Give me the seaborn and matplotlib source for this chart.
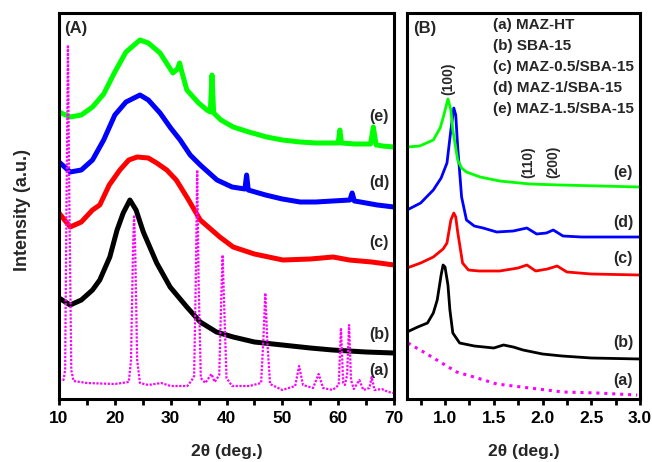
import numpy as np
import pandas as pd
import matplotlib
matplotlib.use("Agg")
import matplotlib.pyplot as plt
from matplotlib.ticker import MultipleLocator
import seaborn as sns

# ---------------- Panel A data (wide angle XRD) ----------------
a_e_x = [10.0, 12.0, 14.0, 16.0, 18.0, 20.0, 22.0, 24.5, 26.0, 28.1, 30.4, 31.2, 31.6, 32.0,
         32.9, 35.0, 36.5, 37.1, 37.4, 37.7, 39.0, 41.2, 44.0, 47.2, 50.0, 53.2, 56.0, 59.1,
         60.0, 60.3, 60.6, 63.0, 65.8, 66.3, 66.8, 68.0, 70.0]
a_e_y = [287, 282, 284, 292, 305, 327, 347, 359, 356, 346, 326, 330, 336, 327,
         309, 296, 289, 287, 324, 286, 279, 272, 267, 262, 259, 257, 256, 256,
         256, 269, 256, 255, 255, 272, 254, 253, 252]

a_d_x = [10.0, 12.0, 14.0, 16.0, 18.0, 20.0, 22.0, 24.5, 26.0, 28.1, 30.0, 31.7, 33.5, 35.3,
         38.3, 41.0, 43.3, 43.6, 43.9, 47.0, 50.0, 53.2, 56.0, 59.0, 62.1, 62.5, 62.9, 64.0,
         67.0, 70.0]
a_d_y = [237, 227, 229, 239, 259, 284, 297, 304, 299, 286, 271, 259, 244, 234,
         219, 212, 210, 224, 209, 204, 200, 197, 197, 198, 199, 206, 198, 197,
         194, 192]

a_c_x = [10.0, 12.0, 14.0, 16.0, 17.3, 19.0, 20.9, 22.5, 24.0, 26.0, 27.5, 29.3, 31.0, 33.0,
         35.3, 38.8, 41.2, 45.0, 50.1, 55.0, 59.1, 62.0, 66.0, 70.0]
a_c_y = [186, 172, 177, 189, 194, 214, 229, 239, 242, 241, 236, 229, 219, 201,
         179, 162, 152, 145, 139, 140, 142, 139, 137, 134]

a_b_x = [10.0, 12.0, 14.0, 16.0, 17.3, 19.1, 20.4, 21.5, 22.7, 23.8, 25.1, 27.5, 29.9, 32.9,
         35.3, 38.2, 41.2, 45.0, 50.0, 55.0, 59.0, 65.0, 70.0]
a_b_y = [101, 94, 99, 109, 119, 142, 169, 186, 199, 189, 167, 136, 112, 92,
         77, 67, 62, 57, 54, 51, 49, 47, 46]

a_a_x = [10.0, 10.8, 11.1, 11.35, 11.6, 11.85, 12.2, 12.6, 15.0, 20.0, 22.5, 22.9, 23.25, 23.45,
         23.65, 24.0, 24.5, 26.0, 28.3, 30.0, 33.0, 33.8, 34.2, 34.5, 34.75, 35.0, 35.4, 36.2,
         37.3, 37.9, 38.7, 39.05, 39.3, 39.55, 40.0, 41.0, 44.1, 46.2, 46.6, 46.95, 47.3, 47.8,
         50.0, 52.3, 53.0, 53.7, 55.5, 56.5, 57.3, 59.0, 60.1, 60.5, 60.9, 61.2, 61.6, 61.95,
         62.3, 62.8, 63.8, 64.5, 65.6, 66.0, 66.5, 67.8, 69.0, 70.0]
a_a_y = [19, 19, 29, 199, 354, 199, 29, 18, 16, 15, 17, 39, 149, 184,
         149, 39, 16, 14, 16, 13, 13, 19, 23, 119, 229, 119, 21, 16,
         25, 17, 24, 99, 144, 99, 21, 13, 13, 16, 59, 106, 59, 15,
         9, 13, 33, 14, 11, 25, 11, 9, 14, 71, 16, 14, 24, 74,
         19, 10, 19, 9, 11, 22, 9, 10, 7, 6]

# ---------------- Panel B data (small angle XRD) ----------------
b_e_x = [0.61, 0.74, 0.88, 0.95, 0.98, 1.03, 1.06, 1.08, 1.13, 1.17, 1.22, 1.36, 1.56, 1.87, 2.18, 2.59, 3.0]
b_e_y = [252, 253, 259, 271, 281, 300, 289, 269, 239, 231, 227, 222, 218, 215, 214, 213, 212]

b_d_x = [0.61, 0.75, 0.88, 0.96, 1.02, 1.06, 1.09, 1.11, 1.13, 1.17, 1.22, 1.30, 1.39, 1.53,
         1.70, 1.84, 1.94, 2.04, 2.11, 2.21, 2.40, 3.0]
b_d_y = [189, 196, 209, 221, 236, 269, 291, 284, 252, 202, 179, 173, 171, 167,
         168, 171, 165, 166, 169, 163, 162, 162]

b_c_x = [0.61, 0.75, 0.88, 0.98, 1.02, 1.06, 1.09, 1.11, 1.13, 1.18, 1.24, 1.35, 1.56, 1.75,
         1.84, 1.93, 2.05, 2.15, 2.25, 2.5, 3.0]
b_c_y = [131, 136, 142, 150, 156, 179, 186, 182, 167, 136, 129, 128, 128, 131,
         134, 128, 130, 133, 127, 125, 124]

b_b_x = [0.61, 0.72, 0.82, 0.88, 0.92, 0.96, 0.98, 1.00, 1.03, 1.05, 1.08, 1.15, 1.3, 1.5,
         1.6, 1.7, 1.8, 1.9, 2.0, 2.2, 2.5, 3.0]
b_b_y = [67, 72, 76, 86, 99, 124, 134, 132, 114, 89, 66, 56, 53, 51,
         54, 52, 49, 47, 45, 43, 41, 40]

b_a_x = [0.62, 0.78, 0.95, 1.12, 1.33, 1.53, 1.87, 2.21, 2.56, 2.97]
b_a_y = [56, 47, 37, 27, 21, 15, 11, 7, 6, 4]

curve_labels = ["(a)", "(b)", "(c)", "(d)", "(e)"]
sample_names = ["MAZ-HT", "SBA-15", "MAZ-0.5/SBA-15", "MAZ-1/SBA-15", "MAZ-1.5/SBA-15"]
colors = {"a": "#ff00ff", "b": "#000000", "c": "#ff0000", "d": "#0000ff", "e": "#00ff00"}

sns.set_theme(style="ticks")
plt.rcParams["font.family"] = ["Liberation Sans", "DejaVu Sans"]
plt.rcParams["font.weight"] = "bold"
plt.rcParams["axes.labelweight"] = "bold"

fig = plt.figure(figsize=(6.52, 4.62), dpi=100)
W, H = 652, 462
axA = fig.add_axes([59 / W, 1 - 399 / H, 335 / W, 386 / H])
axB = fig.add_axes([407 / W, 1 - 399 / H, 233 / W, 386 / H])

def draw(ax, x, y, key, lw, ls="-"):
    df = pd.DataFrame({"x": x, "y": y})
    sns.lineplot(data=df, x="x", y="y", ax=ax, color=colors[key], lw=lw, linestyle=ls,
                 estimator=None, sort=False)

# Panel A
draw(axA, a_b_x, a_b_y, "b", 3.6)
draw(axA, a_c_x, a_c_y, "c", 3.6)
draw(axA, a_d_x, a_d_y, "d", 3.6)
draw(axA, a_e_x, a_e_y, "e", 3.6)
draw(axA, a_a_x, a_a_y, "a", 1.6, (0, (1, 0.7)))

# Panel B
draw(axB, b_a_x, b_a_y, "a", 2.2, (0, (1, 1.6)))
draw(axB, b_b_x, b_b_y, "b", 2.0)
draw(axB, b_c_x, b_c_y, "c", 2.0)
draw(axB, b_d_x, b_d_y, "d", 2.0)
draw(axB, b_e_x, b_e_y, "e", 2.0)

for ax in (axA, axB):
    ax.set_ylim(0, 386)
    ax.set_yticks([])
    ax.set_ylabel("")
    for s in ax.spines.values():
        s.set_visible(True)
        s.set_linewidth(2.2)
        s.set_color("black")
    ax.tick_params(axis="x", which="both", direction="out", length=4.5, width=2,
                   labelsize=12.5, pad=4, colors="black")
    ax.set_xlabel("2θ (deg.)", fontsize=12.5, fontweight="bold", labelpad=13)

axA.set_xlim(10, 70)
axA.xaxis.set_minor_locator(MultipleLocator(5))
axA.set_xticks([10, 20, 30, 40, 50, 60, 70])
axA.set_xticklabels(["10", "20", "30", "40", "50", "60", "70"], fontweight="bold")
axB.set_xlim(0.61, 3.0)
axB.xaxis.set_minor_locator(MultipleLocator(0.25))
axB.set_xticks([1.0, 1.5, 2.0, 2.5, 3.0])
axB.set_xticklabels(["1.0", "1.5", "2.0", "2.5", "3.0"], fontweight="bold")

axA.set_ylabel("Intensity (a.u.)", fontsize=13, fontweight="bold")
axA.yaxis.set_label_coords(-0.085, 0.49)

# Panel labels
axA.text(13.0, 370, "(A)", fontsize=12, fontweight="bold", ha="center", va="center")
axB.text(0.795, 371, "(B)", fontsize=12, fontweight="bold", ha="center", va="center")

a_label_y = [28, 65, 157, 217, 283]
for lab, yy in zip(curve_labels, a_label_y):
    axA.text(67.3, yy, lab, fontsize=11.5, fontweight="bold", ha="center", va="center")
b_label_y = [19, 56, 141, 177, 226]
for lab, yy in zip(curve_labels, b_label_y):
    axB.text(2.83, yy, lab, fontsize=11.5, fontweight="bold", ha="center", va="center")

leg_y = [374, 353, 332, 311, 290]
for lab, name, yy in zip(curve_labels, sample_names, leg_y):
    axB.text(1.49, yy, f"{lab} {name}", fontsize=11, fontweight="bold", ha="left", va="center")

axB.text(1.03, 320, "(100)", fontsize=10, fontweight="bold", rotation=90, ha="center", va="center")
axB.text(1.85, 237, "(110)", fontsize=10, fontweight="bold", rotation=90, ha="center", va="center")
axB.text(2.11, 237, "(200)", fontsize=10, fontweight="bold", rotation=90, ha="center", va="center")

fig.savefig("out.png", dpi=100)
